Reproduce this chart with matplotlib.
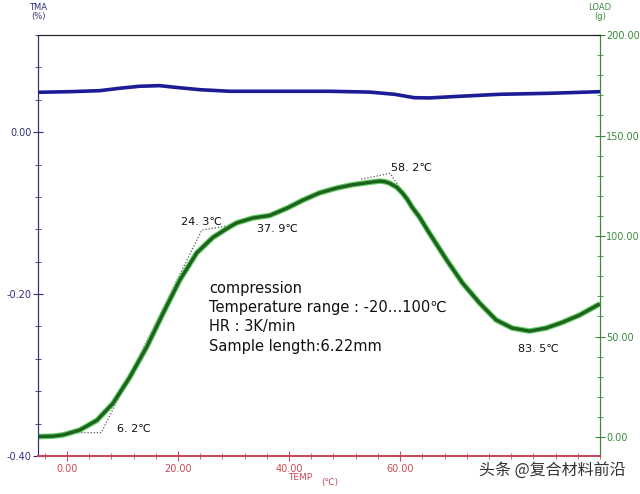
import matplotlib
matplotlib.use('Agg')
import matplotlib.pyplot as plt
from matplotlib.ticker import MultipleLocator
import numpy as np

# green TMA curve (temperature, dimension change %)
temp_tma = [-5.2, -2.5, -0.7, 2.3, 5.4, 8.3, 11.3, 14.4, 17.3, 20.3, 23.4, 26.3, 29.3, 30.6,
            33.5, 36.5, 39.6, 42.5, 45.5, 48.6, 51.4, 54.5, 56.3, 57.3, 58.1, 59.4, 60.4,
            61.3, 62.2, 63.5, 65.3, 68.4, 71.2, 74.3, 77.3, 80.2, 83.3, 86.3, 89.2, 92.3, 96.0]
tma = [-0.376, -0.3755, -0.374, -0.368, -0.356, -0.335, -0.303, -0.265, -0.224, -0.183, -0.149,
       -0.130, -0.117, -0.112, -0.106, -0.103, -0.094, -0.084, -0.075, -0.069, -0.065,
       -0.062, -0.0605, -0.0612, -0.063, -0.068, -0.075, -0.083, -0.093, -0.105, -0.125,
       -0.158, -0.186, -0.211, -0.232, -0.242, -0.2457, -0.242, -0.235, -0.226, -0.212]

# blue load curve (temperature, g)
temp_load = [-5.2, 0.5, 5.9, 9.5, 13.1, 16.7, 19.4, 23.9, 29.3, 38.3, 47.3, 54.5,
             59.0, 62.6, 65.3, 70.7, 77.9, 86.9, 96.0]
load = [171.5, 171.8, 172.3, 173.5, 174.5, 174.8, 174.0, 172.8, 172.0, 172.0, 172.0,
        171.6, 170.5, 168.8, 168.7, 169.5, 170.5, 171.0, 171.8]

# dotted tangent construction lines
tan1_t = [-0.8, 6.2, 24.3, 29.5]
tan1_y = [-0.3712, -0.3712, -0.121, -0.115]
tan2_t = [53.0, 58.2, 60.6]
tan2_y = [-0.058, -0.051, -0.075]

# peak labels: text, temperature, tma
labels = ['6. 2℃', '24. 3℃', '37. 9℃', '58. 2℃', '83. 5℃']
label_t = [9.1, 20.5, 34.3, 58.4, 81.3]
label_y = [-0.367, -0.1105, -0.1195, -0.0445, -0.268]

info = ['compression', 'Temperature range : -20…100℃', 'HR : 3K/min', 'Sample length:6.22mm']

blue_c = '#303078'
green_c = '#3a8a3a'
red_c = '#c84a5a'

fig = plt.figure(figsize=(6.4, 4.94), dpi=100)
ax = fig.add_axes([38 / 640, 38 / 494, 562 / 640, 421 / 494])
ax2 = ax.twinx()

ax.plot(tan1_t, tan1_y, ls=(0, (1, 1.5)), color='#555555', lw=0.9)
ax.plot(tan2_t, tan2_y, ls=(0, (1, 1.5)), color='#555555', lw=0.9)
ax.plot(temp_tma, tma, color='#5fd05f', lw=4.0, solid_joinstyle='round', solid_capstyle='butt')
ax.plot(temp_tma, tma, color='#1f621f', lw=2.4, solid_joinstyle='round', solid_capstyle='butt')
ax2.plot(temp_load, load, color='#1c1c96', lw=2.6, solid_joinstyle='round')

for txt, t, y in zip(labels, label_t, label_y):
    ax.text(t, y, txt, fontsize=8, color='#111111', ha='left', va='center')

for i, line in enumerate(info):
    ax.text(0.304, 0.399 - i * 0.046, line, transform=ax.transAxes,
            fontsize=10.5, color='#111111', ha='left', va='center')

ax.set_xlim(-5.2, 96)
ax.set_ylim(-0.40, 0.12)
ax2.set_ylim(-9.45, 200)

ax.set_xticks([0, 20, 40, 60])
ax.set_xticklabels(['0.00', '20.00', '40.00', '60.00'])
ax.xaxis.set_minor_locator(MultipleLocator(4))
ax.set_yticks([-0.40, -0.20, 0.00])
ax.set_yticklabels(['-0.40', '-0.20', '0.00'])
ax.yaxis.set_minor_locator(MultipleLocator(0.04))
ax2.set_yticks([0, 50, 100, 150, 200])
ax2.set_yticklabels(['0.00', '50.00', '100.00', '150.00', '200.00'])
ax2.yaxis.set_minor_locator(MultipleLocator(10))

ax.tick_params(axis='x', which='both', direction='inout', colors=red_c, labelsize=7)
ax.tick_params(axis='x', which='major', length=7, pad=2)
ax.tick_params(axis='x', which='minor', length=4)
ax.tick_params(axis='y', which='both', direction='inout', colors=blue_c, labelsize=7)
ax.tick_params(axis='y', which='major', length=7, pad=1)
ax.tick_params(axis='y', which='minor', length=4)
ax2.tick_params(axis='y', which='both', direction='inout', colors=green_c, labelsize=7)
ax2.tick_params(axis='y', which='major', length=7, pad=1)
ax2.tick_params(axis='y', which='minor', length=4)

for a in (ax, ax2):
    a.spines['top'].set_color('#222222')
    a.spines['left'].set_color(blue_c)
    a.spines['right'].set_color(green_c)
    a.spines['bottom'].set_color(red_c)
    a.spines['bottom'].set_linewidth(1.4)

fig.text(38 / 640, 1 - 12 / 494, 'TMA\n(%)', color=blue_c, fontsize=6, ha='center', va='center',
         linespacing=1.0)
fig.text(600 / 640, 1 - 12 / 494, 'LOAD\n(g)', color=green_c, fontsize=6, ha='center', va='center',
         linespacing=1.0)
fig.text(300 / 640, 1 - 477 / 494, 'TEMP', color=red_c, fontsize=6.5, ha='center', va='center')
fig.text(330 / 640, 1 - 482 / 494, '(℃)', color=red_c, fontsize=6.5, ha='center', va='center')
fig.text(552 / 640, 1 - 470 / 494, '头条 @复合材料前沿', color='#333333', fontsize=11.5,
         ha='center', va='center', family=['Noto Sans CJK SC', 'DejaVu Sans'])

fig.savefig('out.png', dpi=100)
